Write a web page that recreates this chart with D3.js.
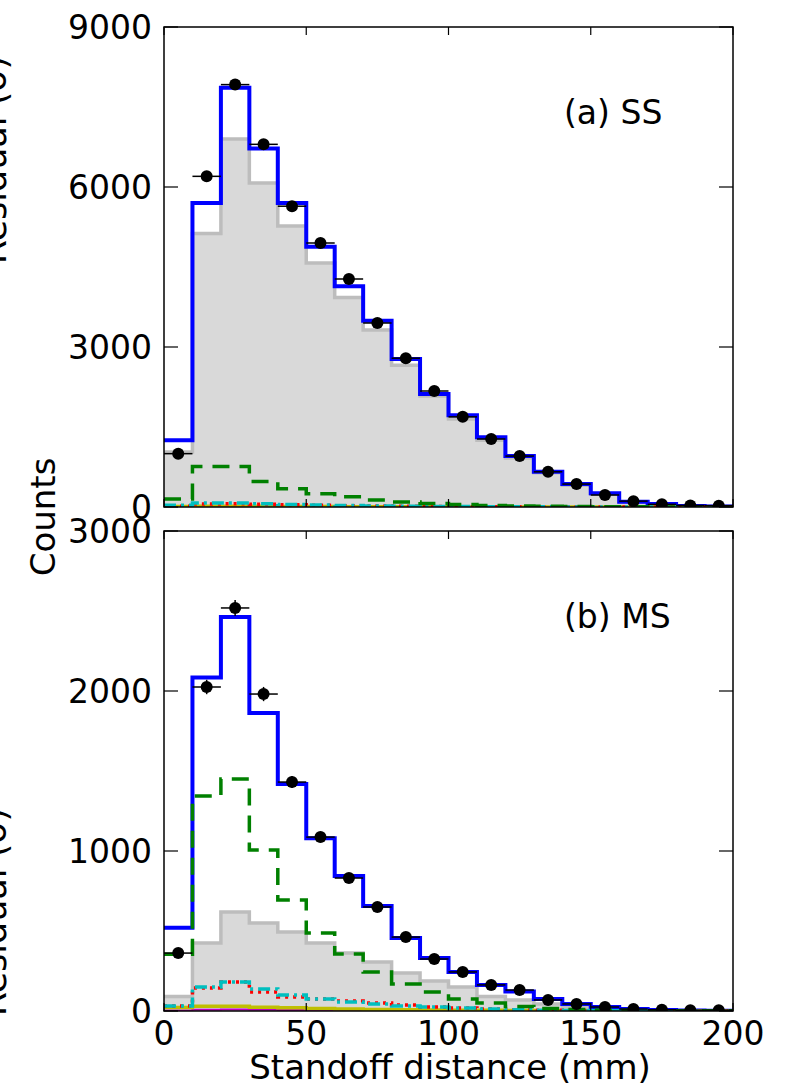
<!DOCTYPE html>
<html>
<head>
<meta charset="utf-8">
<script src="https://cdn.jsdelivr.net/npm/d3@7"></script>
<style>
  html, body { margin: 0; padding: 0; background: #fff; }
  svg { display: block; }
  text { font-family: "DejaVu Sans", sans-serif; fill: #000; }
</style>
</head>
<body>
<svg id="chart" width="789" height="1087"></svg>
<script>
// ---------- data ----------
const binStart = [0,10,20,30,40,50,60,70,80,90,100,110,120,130,140,150,160,170,180,190];
const binCenter = [5,15,25,35,45,55,65,75,85,95,105,115,125,135,145,155,165,175,185,195];

// (a) SS
const ssTotal  = [1250,5700,7860,6720,5700,4880,4140,3490,2775,2120,1720,1310,955,660,430,260,100,55,20,10];
const ssGray   = [1030,5130,6900,6075,5270,4575,3930,3320,2660,2080,1650,1250,920,640,410,240,95,50,18,9];
const ssGreen  = [150,760,760,480,340,250,190,130,95,65,45,30,20,15,10,6,4,2,1,1];
const ssCyan   = [35,75,75,60,45,37,28,20,15,10,8,6,4,3,2,1,1,0,0,0];
const ssRed    = [15,55,60,50,40,32,25,18,13,9,7,5,3,2,1,1,0,0,0,0];
const ssYellow = [8,15,15,12,10,8,6,5,4,3,2,2,1,1,1,0,0,0,0,0];
const ssData   = [1000,6200,7920,6800,5640,4950,4275,3450,2790,2175,1690,1275,955,660,430,225,110,50,30,25];

// (b) MS
const msTotal  = [520,2085,2462,1862,1419,1080,844,656,456,331,244,163,122,75,44,25,12,6,3,2];
const msGray   = [90,425,619,550,494,425,362,306,238,188,150,90,69,44,25,12,6,3,2,1];
const msGreen  = [355,1344,1450,1006,694,488,356,244,169,119,75,50,28,15,10,6,4,2,1,1];
const msCyan   = [31,150,181,138,100,75,56,44,31,25,19,12,8,5,3,2,1,1,0,0];
const msRed    = [31,144,181,119,88,75,62,50,37,25,19,12,8,5,3,2,1,1,0,0];
const msYellow = [22,30,30,24,20,16,12,10,8,6,5,4,3,2,1,1,0,0,0,0];
const msPurple = [3,8,10,8,6,5,4,3,2,2,1,1,1,0,0,0,0,0,0,0];
const msData   = [362,2025,2519,1981,1431,1087,831,650,462,325,244,163,131,69,44,25,12,8,5,5];

const xTicks = [0,50,100,150,200];
const ssYTicks = [0,3000,6000,9000];
const msYTicks = [0,1000,2000,3000];
const panelLabels = ["(a) SS", "(b) MS"];
const xTitle = "Standoff distance (mm)";
const yTitle = "Counts";
const clippedTitle = "Residual (σ)";

// ---------- layout ----------
const svg = d3.select("#chart");
const X0 = 164, X1 = 733;
const x = d3.scaleLinear().domain([0,200]).range([X0, X1]);

const panels = [
  { top: 27, bottom: 507, max: 9000, ticks: ssYTicks, label: panelLabels[0],
    total: ssTotal, gray: ssGray, green: ssGreen, cyan: ssCyan, red: ssRed, yellow: ssYellow, purple: null, data: ssData, xlabels: false },
  { top: 531, bottom: 1011, max: 3000, ticks: msYTicks, label: panelLabels[1],
    total: msTotal, gray: msGray, green: msGreen, cyan: msCyan, red: msRed, yellow: msYellow, purple: msPurple, data: msData, xlabels: true }
];

function stepPts(vals) {
  const pts = binStart.map((b, i) => [b, vals[i]]);
  pts.push([200, vals[vals.length - 1]]);
  return pts;
}

panels.forEach((p, pi) => {
  const y = d3.scaleLinear().domain([0, p.max]).range([p.bottom, p.top]);
  const clipId = "clip" + pi;
  svg.append("clipPath").attr("id", clipId)
    .append("rect").attr("x", X0).attr("y", p.top).attr("width", X1 - X0).attr("height", p.bottom - p.top);
  const g = svg.append("g").attr("clip-path", `url(#${clipId})`);

  const line = d3.line().x(d => x(d[0])).y(d => y(d[1])).curve(d3.curveStepAfter);
  const area = d3.area().x(d => x(d[0])).y0(y(0)).y1(d => y(d[1])).curve(d3.curveStepAfter);

  // gray filled histogram
  g.append("path").attr("d", area(stepPts(p.gray))).attr("fill", "#d9d9d9").attr("stroke", "none");
  g.append("path").attr("d", line(stepPts(p.gray))).attr("fill", "none").attr("stroke", "#bdbdbd").attr("stroke-width", 3.5);

  // total (blue)
  g.append("path").attr("d", line(stepPts(p.total))).attr("fill", "none").attr("stroke", "#0000ff").attr("stroke-width", 4);

  // components
  if (p.purple) g.append("path").attr("d", line(stepPts(p.purple))).attr("fill", "none").attr("stroke", "#bf00bf").attr("stroke-width", 2);
  g.append("path").attr("d", line(stepPts(p.yellow))).attr("fill", "none").attr("stroke", "#bfbf00").attr("stroke-width", 3.5);
  g.append("path").attr("d", line(stepPts(p.red))).attr("fill", "none").attr("stroke", "#ff0000").attr("stroke-width", 3.5).attr("stroke-dasharray", "3,5");
  g.append("path").attr("d", line(stepPts(p.cyan))).attr("fill", "none").attr("stroke", "#00bfbf").attr("stroke-width", 3.5).attr("stroke-dasharray", "12,5,3,5");
  g.append("path").attr("d", line(stepPts(p.green))).attr("fill", "none").attr("stroke", "#008000").attr("stroke-width", 3.5).attr("stroke-dasharray", "17,10");

  // data points with error bars
  const pts = g.append("g");
  binCenter.forEach((c, i) => {
    const v = p.data[i];
    const e = Math.sqrt(v);
    pts.append("line").attr("x1", x(c - 5)).attr("x2", x(c + 5)).attr("y1", y(v)).attr("y2", y(v))
      .attr("stroke", "#000").attr("stroke-width", 1.5);
    pts.append("line").attr("x1", x(c)).attr("x2", x(c)).attr("y1", y(v - e)).attr("y2", y(v + e))
      .attr("stroke", "#000").attr("stroke-width", 1.5);
    pts.append("circle").attr("cx", x(c)).attr("cy", y(v)).attr("r", 6).attr("fill", "#000");
  });

  // ticks
  const tk = svg.append("g").attr("stroke", "#000").attr("stroke-width", 1.2);
  p.ticks.forEach(t => {
    tk.append("line").attr("x1", X0).attr("x2", X0 + 14).attr("y1", y(t)).attr("y2", y(t));
    tk.append("line").attr("x1", X1 - 14).attr("x2", X1).attr("y1", y(t)).attr("y2", y(t));
  });
  xTicks.forEach(t => {
    tk.append("line").attr("x1", x(t)).attr("x2", x(t)).attr("y1", p.bottom).attr("y2", p.bottom - 8);
    tk.append("line").attr("x1", x(t)).attr("x2", x(t)).attr("y1", p.top).attr("y2", p.top + 8);
  });

  // frame
  svg.append("rect").attr("x", X0).attr("y", p.top).attr("width", X1 - X0).attr("height", p.bottom - p.top)
    .attr("fill", "none").attr("stroke", "#000").attr("stroke-width", 1.5);

  // y tick labels
  p.ticks.forEach(t => {
    svg.append("text").attr("x", 152).attr("y", y(t)).attr("dy", "0.36em")
      .attr("text-anchor", "end").attr("font-size", 33).text(d3.format("d")(t));
  });

  // x tick labels
  if (p.xlabels) {
    xTicks.forEach(t => {
      svg.append("text").attr("x", x(t)).attr("y", p.bottom + 34)
        .attr("text-anchor", "middle").attr("font-size", 33).text(t);
    });
  }

  // panel label
  svg.append("text").attr("x", 564).attr("y", p.top + 97).attr("font-size", 33).text(p.label);

  // clipped residual label at far left
  svg.append("text").attr("transform", `translate(6, ${pi === 0 ? 160 : 912}) rotate(-90)`)
    .attr("text-anchor", "middle").attr("font-size", 35).text(clippedTitle);
});

// axis titles
svg.append("text").attr("x", 450).attr("y", 1079).attr("text-anchor", "middle").attr("font-size", 34).text(xTitle);
svg.append("text").attr("transform", "translate(55, 517) rotate(-90)").attr("text-anchor", "middle").attr("font-size", 34).text(yTitle);
</script>
</body>
</html>
